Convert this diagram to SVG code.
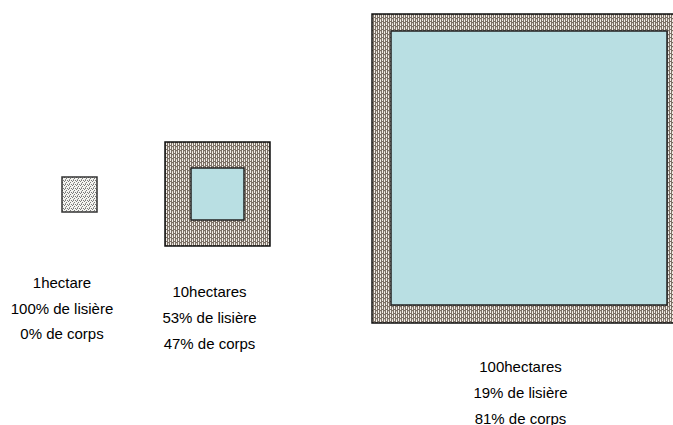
<svg xmlns="http://www.w3.org/2000/svg" width="673" height="425" viewBox="0 0 673 425">
<style>
.t{font-family:"Liberation Sans",Arial,sans-serif;font-size:15px;fill:#000;text-anchor:middle}
.edge{fill:url(#dk);stroke:#111;stroke-width:1.5}
.core{fill:#b9dfe3;stroke:#222;stroke-width:1.5}
</style>
<defs>
<pattern id="dk" width="4" height="4" patternUnits="userSpaceOnUse">
<rect width="4" height="4" fill="#7b7066"/>
<rect x="0" y="0" width="1" height="2" fill="#f2eee8"/>
<rect x="2" y="0" width="1" height="1" fill="#f2eee8"/>
<rect x="2" y="2" width="1" height="2" fill="#f2eee8"/>
<rect x="0" y="3" width="1" height="1" fill="#d8d0c6"/>
</pattern>
<pattern id="lt" width="4" height="4" patternUnits="userSpaceOnUse">
<rect width="4" height="4" fill="#f4f4f0"/>
<rect x="1" y="0" width="1" height="1" fill="#7a7a7a"/>
<rect x="3" y="0" width="1" height="1" fill="#7a7a7a"/>
<rect x="0" y="1" width="1" height="1" fill="#7a7a7a"/>
<rect x="2" y="2" width="1" height="1" fill="#7a7a7a"/>
<rect x="1" y="3" width="1" height="1" fill="#9a9a9a"/>
</pattern>
</defs>
<g id="node-1ha">
<rect x="62" y="177" width="35" height="35" fill="url(#lt)" stroke="#333" stroke-width="1.5"/>
<text class="t" x="62" y="287.5">1hectare</text>
<text class="t" x="62" y="313.5">100% de lisière</text>
<text class="t" x="62" y="338.5">0% de corps</text>
</g>
<g id="node-10ha">
<rect class="edge" x="165" y="142" width="105" height="104"/>
<rect class="core" x="191" y="168" width="53" height="52"/>
<text class="t" x="209.5" y="296.5">10hectares</text>
<text class="t" x="209.5" y="322.5">53% de lisière</text>
<text class="t" x="209.5" y="348.5">47% de corps</text>
</g>
<g id="node-100ha">
<rect class="edge" x="372" y="14" width="306" height="309"/>
<rect class="core" x="391" y="31" width="276" height="274"/>
<text class="t" x="520.5" y="371.5">100hectares</text>
<text class="t" x="520.5" y="397.5">19% de lisière</text>
<text class="t" x="520.5" y="423.5">81% de corps</text>
</g>
<g id="connectors"/>
</svg>
